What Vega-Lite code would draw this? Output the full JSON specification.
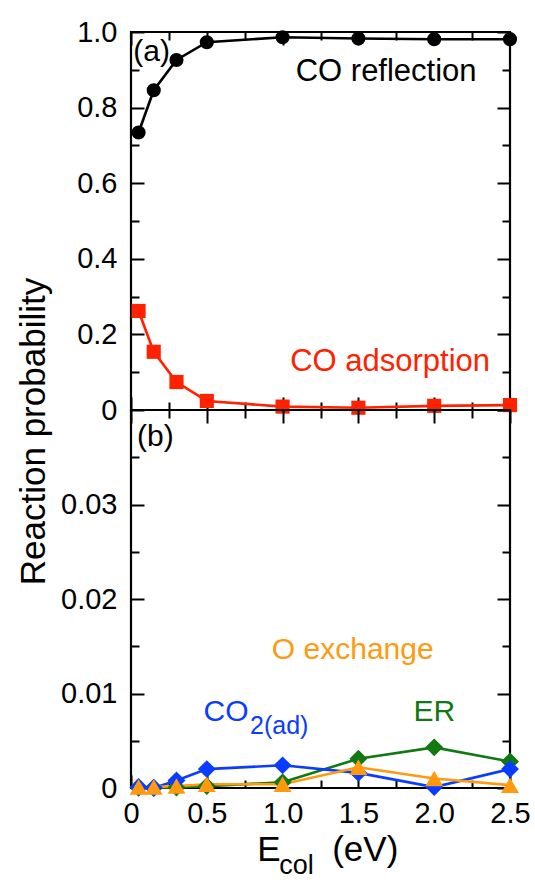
{
  "$schema": "https://vega.github.io/schema/vega-lite/v6.json",
  "padding": {"left": 15, "top": 16, "right": 5, "bottom": 5},
  "background": "white",
  "bounds": "flush",
  "resolve": {"scale": {"color": "independent", "shape": "independent"}},
  "datasets": {
    "top": [
      {"E": 0.05, "P": 0.734, "series": "CO reflection"},
      {"E": 0.15, "P": 0.846, "series": "CO reflection"},
      {"E": 0.3, "P": 0.926, "series": "CO reflection"},
      {"E": 0.5, "P": 0.973, "series": "CO reflection"},
      {"E": 1.0, "P": 0.986, "series": "CO reflection"},
      {"E": 1.5, "P": 0.983, "series": "CO reflection"},
      {"E": 2.0, "P": 0.981, "series": "CO reflection"},
      {"E": 2.5, "P": 0.981, "series": "CO reflection"},
      {"E": 0.05, "P": 0.262, "series": "CO adsorption"},
      {"E": 0.15, "P": 0.154, "series": "CO adsorption"},
      {"E": 0.3, "P": 0.074, "series": "CO adsorption"},
      {"E": 0.5, "P": 0.024, "series": "CO adsorption"},
      {"E": 1.0, "P": 0.009, "series": "CO adsorption"},
      {"E": 1.5, "P": 0.006, "series": "CO adsorption"},
      {"E": 2.0, "P": 0.011, "series": "CO adsorption"},
      {"E": 2.5, "P": 0.013, "series": "CO adsorption"}
    ],
    "bottom": [
      {"E": 0.05, "P": 0.00002, "series": "ER"},
      {"E": 0.15, "P": 0.00002, "series": "ER"},
      {"E": 0.3, "P": 0.00005, "series": "ER"},
      {"E": 0.5, "P": 0.0002, "series": "ER"},
      {"E": 1.0, "P": 0.0006, "series": "ER"},
      {"E": 1.5, "P": 0.0031, "series": "ER"},
      {"E": 2.0, "P": 0.0043, "series": "ER"},
      {"E": 2.5, "P": 0.0028, "series": "ER"},
      {"E": 0.05, "P": 0.0001, "series": "CO2"},
      {"E": 0.15, "P": 0.0, "series": "CO2"},
      {"E": 0.3, "P": 0.0008, "series": "CO2"},
      {"E": 0.5, "P": 0.002, "series": "CO2"},
      {"E": 1.0, "P": 0.0024, "series": "CO2"},
      {"E": 1.5, "P": 0.0016, "series": "CO2"},
      {"E": 2.0, "P": 0.0001, "series": "CO2"},
      {"E": 2.5, "P": 0.002, "series": "CO2"},
      {"E": 0.05, "P": 0.0001, "series": "O exchange"},
      {"E": 0.15, "P": 0.0001, "series": "O exchange"},
      {"E": 0.3, "P": 0.0002, "series": "O exchange"},
      {"E": 0.5, "P": 0.0004, "series": "O exchange"},
      {"E": 1.0, "P": 0.0004, "series": "O exchange"},
      {"E": 1.5, "P": 0.0022, "series": "O exchange"},
      {"E": 2.0, "P": 0.001, "series": "O exchange"},
      {"E": 2.5, "P": 0.0003, "series": "O exchange"}
    ],
    "topLabels": [
      {"E": 1.683, "P": 0.870, "series": "CO reflection", "text": "CO reflection"},
      {"E": 1.709, "P": 0.103, "series": "CO adsorption", "text": "CO adsorption"}
    ],
    "topTag": [
      {"E": 0.015, "P": 0.924, "text": "(a)"}
    ],
    "bottomLabels": [
      {"E": 0.929, "P": 0.01365, "series": "O exchange", "text": "O exchange"},
      {"E": 1.863, "P": 0.00712, "series": "ER", "text": "ER"},
      {"E": 0.479, "P": 0.00712, "series": "CO2", "text": "CO"}
    ],
    "bottomSub": [
      {"E": 0.785, "P": 0.00571, "series": "CO2", "text": "2(ad)"}
    ],
    "bottomTag": [
      {"E": 0.04, "P": 0.0362, "text": "(b)"}
    ],
    "xTitle": [
      {"E": 0.833, "P": -0.0077, "text": "E"},
      {"E": 1.327, "P": -0.0077, "text": "(eV)"}
    ],
    "xTitleSub": [
      {"E": 0.978, "P": -0.0091, "text": "col"}
    ]
  },
  "config": {
    "axis": {
      "domain": false,
      "grid": false,
      "tickColor": "black",
      "tickWidth": 2,
      "labelFont": "Liberation Sans",
      "labelFontSize": 29,
      "labelColor": "black",
      "labelFlush": false,
      "labelOverlap": false,
      "labelBound": false,
      "titleFont": "Liberation Sans",
      "titleFontSize": 35,
      "titleFontWeight": "normal",
      "titleColor": "black"
    },
    "view": {"stroke": "black", "strokeWidth": 2.2},
    "concat": {"spacing": 0},
    "text": {"font": "Liberation Sans"}
  },
  "vconcat": [
    {
      "width": 379,
      "height": 378,
      "resolve": {"axis": {"x": "independent", "y": "independent"}},
      "layer": [
        {
          "data": {"name": "top"},
          "mark": {"type": "line", "strokeWidth": 2.6},
          "encoding": {
            "x": {"field": "E", "type": "quantitative", "scale": {"domain": [0, 2.5], "nice": false},
                  "axis": {"orient": "bottom", "values": [0, 0.5, 1, 1.5, 2, 2.5], "tickSize": -13, "labels": false, "title": null}},
            "y": {"field": "P", "type": "quantitative", "scale": {"domain": [0, 1], "nice": false},
                  "axis": {"orient": "left", "values": [0, 0.2, 0.4, 0.6, 0.8, 1.0], "tickSize": -13, "labelPadding": 27,
                           "labelExpr": "datum.value == 0 ? '0' : format(datum.value, '.1f')",
                           "title": "Reaction probability", "titleY": 399, "titlePadding": 25}},
            "color": {"field": "series", "type": "nominal", "scale": {"domain": ["CO reflection", "CO adsorption"], "range": ["#000000", "#ff2200"]}, "legend": null}
          }
        },
        {
          "data": {"name": "top"},
          "mark": {"type": "point", "filled": true, "opacity": 1},
          "encoding": {
            "x": {"field": "E", "type": "quantitative", "scale": {"domain": [0, 2.5], "nice": false},
                  "axis": {"orient": "bottom", "values": [0.25, 0.75, 1.25, 1.75, 2.25], "tickSize": -8, "labels": false, "title": null}},
            "y": {"field": "P", "type": "quantitative", "scale": {"domain": [0, 1], "nice": false},
                  "axis": {"orient": "left", "values": [0.1, 0.3, 0.5, 0.7, 0.9], "tickSize": -8, "labels": false, "title": null}},
            "color": {"field": "series", "type": "nominal", "legend": null},
            "shape": {"field": "series", "type": "nominal", "scale": {"domain": ["CO reflection", "CO adsorption"], "range": ["circle", "square"]}, "legend": null},
            "size": {"value": 200}
          }
        },
        {
          "data": {"name": "topLabels"},
          "mark": {"type": "text", "fontSize": 31, "align": "center", "baseline": "alphabetic"},
          "encoding": {
            "x": {"field": "E", "type": "quantitative", "scale": {"domain": [0, 2.5], "nice": false},
                  "axis": {"orient": "top", "values": [0, 0.5, 1, 1.5, 2, 2.5], "tickSize": -13, "labels": false, "title": null}},
            "y": {"field": "P", "type": "quantitative", "scale": {"domain": [0, 1], "nice": false},
                  "axis": {"orient": "right", "values": [0, 0.2, 0.4, 0.6, 0.8, 1.0], "tickSize": -13, "labels": false, "title": null}},
            "text": {"field": "text"},
            "color": {"field": "series", "type": "nominal", "legend": null}
          }
        },
        {
          "data": {"name": "topTag"},
          "mark": {"type": "text", "fontSize": 30, "align": "left", "baseline": "alphabetic", "color": "black"},
          "encoding": {
            "x": {"field": "E", "type": "quantitative", "scale": {"domain": [0, 2.5], "nice": false},
                  "axis": {"orient": "top", "values": [0.25, 0.75, 1.25, 1.75, 2.25], "tickSize": -8, "labels": false, "title": null}},
            "y": {"field": "P", "type": "quantitative", "scale": {"domain": [0, 1], "nice": false},
                  "axis": {"orient": "right", "values": [0.1, 0.3, 0.5, 0.7, 0.9], "tickSize": -8, "labels": false, "title": null}},
            "text": {"field": "text"}
          }
        }
      ]
    },
    {
      "width": 379,
      "height": 378,
      "resolve": {"axis": {"x": "independent", "y": "independent"}},
      "layer": [
        {
          "data": {"name": "bottom"},
          "mark": {"type": "line", "strokeWidth": 2.6},
          "encoding": {
            "x": {"field": "E", "type": "quantitative", "scale": {"domain": [0, 2.5], "nice": false},
                  "axis": {"orient": "bottom", "values": [0, 0.5, 1, 1.5, 2, 2.5], "tickSize": -13, "labelPadding": 24,
                           "labelExpr": "datum.value == 0 ? '0' : format(datum.value, '.1f')", "title": null}},
            "y": {"field": "P", "type": "quantitative", "scale": {"domain": [0, 0.04], "nice": false},
                  "axis": {"orient": "left", "values": [0, 0.01, 0.02, 0.03], "tickSize": -13, "labelPadding": 27,
                           "labelExpr": "datum.value == 0 ? '0' : format(datum.value, '.2f')", "title": null}},
            "color": {"field": "series", "type": "nominal", "scale": {"domain": ["ER", "CO2", "O exchange"], "range": ["#127812", "#0a3cff", "#ff9a10"]}, "legend": null}
          }
        },
        {
          "data": {"name": "bottom"},
          "mark": {"type": "point", "filled": true, "opacity": 1},
          "encoding": {
            "x": {"field": "E", "type": "quantitative", "scale": {"domain": [0, 2.5], "nice": false},
                  "axis": {"orient": "bottom", "values": [0.25, 0.75, 1.25, 1.75, 2.25], "tickSize": -8, "labels": false, "title": null}},
            "y": {"field": "P", "type": "quantitative", "scale": {"domain": [0, 0.04], "nice": false},
                  "axis": {"orient": "left", "values": [0.005, 0.015, 0.025, 0.035], "tickSize": -8, "labels": false, "title": null}},
            "color": {"field": "series", "type": "nominal", "legend": null},
            "shape": {"field": "series", "type": "nominal", "scale": {"domain": ["ER", "CO2", "O exchange"], "range": ["diamond", "diamond", "triangle-up"]}, "legend": null},
            "size": {"value": 320}
          }
        },
        {
          "data": {"name": "bottomLabels"},
          "mark": {"type": "text", "fontSize": 30, "align": "left", "baseline": "alphabetic"},
          "encoding": {
            "x": {"field": "E", "type": "quantitative", "scale": {"domain": [0, 2.5], "nice": false},
                  "axis": {"orient": "top", "values": [0, 0.5, 1, 1.5, 2, 2.5], "tickSize": -13, "labels": false, "title": null}},
            "y": {"field": "P", "type": "quantitative", "scale": {"domain": [0, 0.04], "nice": false},
                  "axis": {"orient": "right", "values": [0, 0.01, 0.02, 0.03, 0.04], "tickSize": -13, "labels": false, "title": null}},
            "text": {"field": "text"},
            "color": {"field": "series", "type": "nominal", "legend": null}
          }
        },
        {
          "data": {"name": "bottomSub"},
          "mark": {"type": "text", "fontSize": 25, "align": "left", "baseline": "alphabetic"},
          "encoding": {
            "x": {"field": "E", "type": "quantitative", "scale": {"domain": [0, 2.5], "nice": false},
                  "axis": {"orient": "top", "values": [0.25, 0.75, 1.25, 1.75, 2.25], "tickSize": -8, "labels": false, "title": null}},
            "y": {"field": "P", "type": "quantitative", "scale": {"domain": [0, 0.04], "nice": false},
                  "axis": {"orient": "right", "values": [0.005, 0.015, 0.025, 0.035], "tickSize": -8, "labels": false, "title": null}},
            "text": {"field": "text"},
            "color": {"field": "series", "type": "nominal", "legend": null}
          }
        },
        {
          "data": {"name": "bottomTag"},
          "mark": {"type": "text", "fontSize": 30, "align": "left", "baseline": "alphabetic", "color": "black"},
          "encoding": {
            "x": {"field": "E", "type": "quantitative", "scale": {"domain": [0, 2.5], "nice": false}, "axis": null},
            "y": {"field": "P", "type": "quantitative", "scale": {"domain": [0, 0.04], "nice": false}, "axis": null},
            "text": {"field": "text"}
          }
        },
        {
          "data": {"name": "xTitle"},
          "mark": {"type": "text", "fontSize": 35, "align": "left", "baseline": "alphabetic", "color": "black"},
          "encoding": {
            "x": {"field": "E", "type": "quantitative", "scale": {"domain": [0, 2.5], "nice": false}, "axis": null},
            "y": {"field": "P", "type": "quantitative", "scale": {"domain": [0, 0.04], "nice": false}, "axis": null},
            "text": {"field": "text"}
          }
        },
        {
          "data": {"name": "xTitleSub"},
          "mark": {"type": "text", "fontSize": 27, "align": "left", "baseline": "alphabetic", "color": "black"},
          "encoding": {
            "x": {"field": "E", "type": "quantitative", "scale": {"domain": [0, 2.5], "nice": false}, "axis": null},
            "y": {"field": "P", "type": "quantitative", "scale": {"domain": [0, 0.04], "nice": false}, "axis": null},
            "text": {"field": "text"}
          }
        }
      ]
    }
  ]
}
